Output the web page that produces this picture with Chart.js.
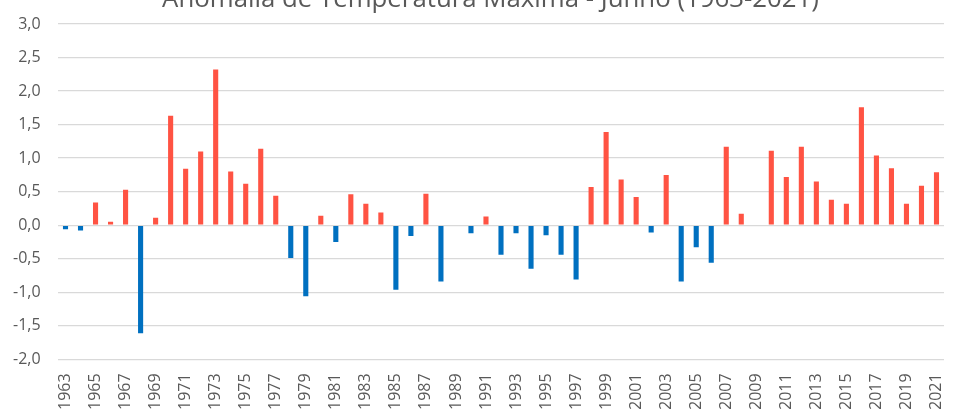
<!DOCTYPE html>
<html>
<head>
<meta charset="utf-8">
<script src="https://cdn.jsdelivr.net/npm/chart.js@4/dist/chart.umd.min.js"></script>
<style>
  html, body { margin: 0; padding: 0; background: #fff; overflow: hidden; }
  #wrap { position: absolute; left: 0; top: -20px; width: 1021px; height: 449px; }
</style>
</head>
<body>
<div id="wrap"><canvas id="chart"></canvas></div>
<script>
const years = [
  "1963", "1964", "1965", "1966", "1967", "1968", "1969", "1970", "1971", "1972",
  "1973", "1974", "1975", "1976", "1977", "1978", "1979", "1980", "1981", "1982",
  "1983", "1984", "1985", "1986", "1987", "1988", "1989", "1990", "1991", "1992",
  "1993", "1994", "1995", "1996", "1997", "1998", "1999", "2000", "2001", "2002",
  "2003", "2004", "2005", "2006", "2007", "2008", "2009", "2010", "2011", "2012",
  "2013", "2014", "2015", "2016", "2017", "2018", "2019", "2020", "2021"
];

const anomalies = [
  -0.06, -0.08, 0.34, 0.05, 0.53, -1.61, 0.11, 1.63, 0.84, 1.10,
  2.32, 0.80, 0.62, 1.14, 0.44, -0.49, -1.06, 0.14, -0.25, 0.46,
  0.32, 0.19, -0.96, -0.16, 0.47, -0.84, 0.00, -0.12, 0.13, -0.44,
  -0.12, -0.65, -0.15, -0.44, -0.81, 0.57, 1.39, 0.68, 0.42, -0.11,
  0.75, -0.84, -0.33, -0.56, 1.17, 0.17, 0.00, 1.11, 0.72, 1.17,
  0.65, 0.38, 0.32, 1.76, 1.04, 0.85, 0.32, 0.59, 0.79
];

const yTicks = [-2.0, -1.5, -1.0, -0.5, 0.0, 0.5, 1.0, 1.5, 2.0, 2.5, 3.0];

const RED = "#FF5343";
const BLUE = "#0070C0";
const TEXT = "#595959";
const FONT = "'Open Sans', sans-serif";

const ctx = document.getElementById("chart").getContext("2d");
new Chart(ctx, {
  type: "bar",
  data: {
    labels: years,
    datasets: [{
      label: "Anomalia",
      data: anomalies,
      backgroundColor: anomalies.map(v => v >= 0 ? RED : BLUE),
      categoryPercentage: 1.0,
      barPercentage: 0.34
    }]
  },
  options: {
    responsive: true,
    maintainAspectRatio: false,
    animation: false,
    // wide canvas + left padding so the title centre sits where the original's does
    layout: { padding: { left: 37, right: 77, top: 0, bottom: 5 } },
    plugins: {
      legend: { display: false },
      tooltip: { enabled: false },
      title: {
        display: true,
        text: "Anomalia de Temperatura Máxima - Junho (1963-2021)",
        color: TEXT,
        font: { family: FONT, size: 25.8, weight: "normal" },
        padding: { top: 4, bottom: 9 }
      }
    },
    scales: {
      x: {
        grid: { display: false, drawTicks: false },
        border: { display: false },
        ticks: {
          autoSkip: false,
          maxRotation: 90,
          minRotation: 90,
          padding: 14,
          color: TEXT,
          font: { family: FONT, size: 16 },
          callback: (v, i) => i % 2 === 0 ? years[i] : ""
        }
      },
      y: {
        min: -2,
        max: 3,
        afterBuildTicks: axis => { axis.ticks = yTicks.map(v => ({ value: v })); },
        // narrow axis box; mirrored labels (not clipped) pushed back out to the left
        afterFit: axis => { axis.width = 21; },
        grid: { color: "#D9D9D9", lineWidth: 1.3, drawTicks: false },
        border: { display: false },
        ticks: {
          mirror: true,
          crossAlign: "far",
          padding: -45,
          color: TEXT,
          font: { family: FONT, size: 16 },
          callback: v => v.toFixed(1).replace(".", ",")
        }
      }
    }
  }
});
</script>
</body>
</html>
